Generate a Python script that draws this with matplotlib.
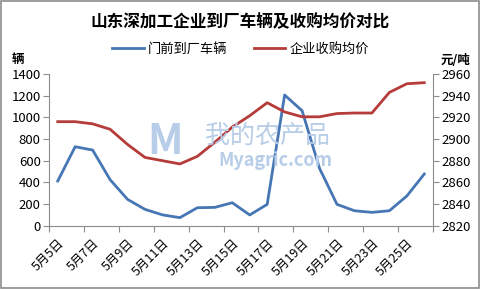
import matplotlib
matplotlib.use("Agg")
import matplotlib.pyplot as plt
from matplotlib.patches import Rectangle

plt.rcParams['font.family'] = ['Noto Sans CJK SC', 'DejaVu Sans']

# 5月5日 .. 5月26日
days = [f'5月{d}日' for d in range(5, 27)]
trucks = [412, 729, 698, 425, 243, 151, 100, 74, 166, 169, 212, 99,
          197, 1206, 1061, 529, 197, 138, 123, 138, 274, 477]
price = [2916, 2916, 2914, 2909, 2895, 2883, 2880, 2877, 2884, 2897, 2911,
         2921.5, 2933.5, 2925, 2920.5, 2920.5, 2923.5, 2924, 2924, 2943,
         2951, 2952]
label_days = days[::2]

blue = '#4676B4'
red = '#B53C3A'

fig = plt.figure(figsize=(4.81, 2.89), dpi=100)
fig.patches.append(Rectangle((0.002, 0.004), 0.994, 0.992, transform=fig.transFigure,
                             fill=False, edgecolor='#8c8c8c', lw=1.2))

ax = fig.add_axes([49 / 481, 1 - 225.7 / 289, 384 / 481, 151.7 / 289])
ax2 = ax.twinx()

x = list(range(len(days)))
ax.plot(x, trucks, color=blue, lw=2.0, label='门前到厂车辆', zorder=3)
ax2.plot(x, price, color=red, lw=2.0, label='企业收购均价', zorder=3)

ax.set_xlim(-0.5, len(days) - 0.5)
ax.set_ylim(0, 1400)
ax.set_yticks(range(0, 1401, 200))
ax2.set_ylim(2820, 2960)
ax2.set_yticks(range(2820, 2961, 20))

# category ticks between pairs of days
ax.set_xticks([i - 0.5 for i in range(0, len(days) + 1, 2)])
ax.set_xticklabels([])
ax.set_xticks(range(0, len(days), 2), minor=True)
ax.set_xticklabels(label_days, minor=True, rotation=45, ha='right', va='top',
                   rotation_mode='anchor', fontsize=9)
ax.tick_params(axis='x', which='minor', length=0, pad=8)
ax.tick_params(axis='x', which='major', length=4, color='#8c8c8c')

for a in (ax, ax2):
    a.spines['top'].set_visible(False)
    for s in ('left', 'right', 'bottom'):
        a.spines[s].set_color('#8c8c8c')
ax.spines['right'].set_visible(False)
ax2.spines['left'].set_visible(False)
ax2.spines['bottom'].set_visible(False)
ax.tick_params(axis='y', labelsize=9.5, length=4, color='#8c8c8c', pad=2)
ax2.tick_params(axis='y', labelsize=9.5, length=4, color='#8c8c8c', pad=2)

# watermark
wm = '#b7cde8'
fig.text(165 / 481, 1 - 142 / 289, 'M', color=wm, fontsize=30, ha='center',
         va='center', fontweight='bold', zorder=0)
fig.text(268 / 481, 1 - 136 / 289, '我的农产品', color=wm, fontsize=18,
         ha='center', va='center', zorder=0)
fig.text(275 / 481, 1 - 160 / 289, 'Myagric.com', color=wm, fontsize=13,
         ha='center', va='center', fontweight='bold', zorder=0)

fig.text(0.5, 1 - 22 / 289, '山东深加工企业到厂车辆及收购均价对比', ha='center',
         va='center', fontsize=12, fontweight='bold')
fig.text(18 / 481, 1 - 60 / 289, '辆', ha='center', va='center', fontsize=9,
         fontweight='bold')
fig.text(456 / 481, 1 - 61 / 289, '元/吨', ha='center', va='center', fontsize=9,
         fontweight='bold')

h1, l1 = ax.get_legend_handles_labels()
h2, l2 = ax2.get_legend_handles_labels()
fig.legend(h1 + h2, l1 + l2, loc='center', bbox_to_anchor=(0.5, 1 - 49 / 289),
           ncol=2, frameon=False, fontsize=9.5, handlelength=2.4,
           handletextpad=0.3, columnspacing=2.0)

fig.savefig('out.png', dpi=100)
